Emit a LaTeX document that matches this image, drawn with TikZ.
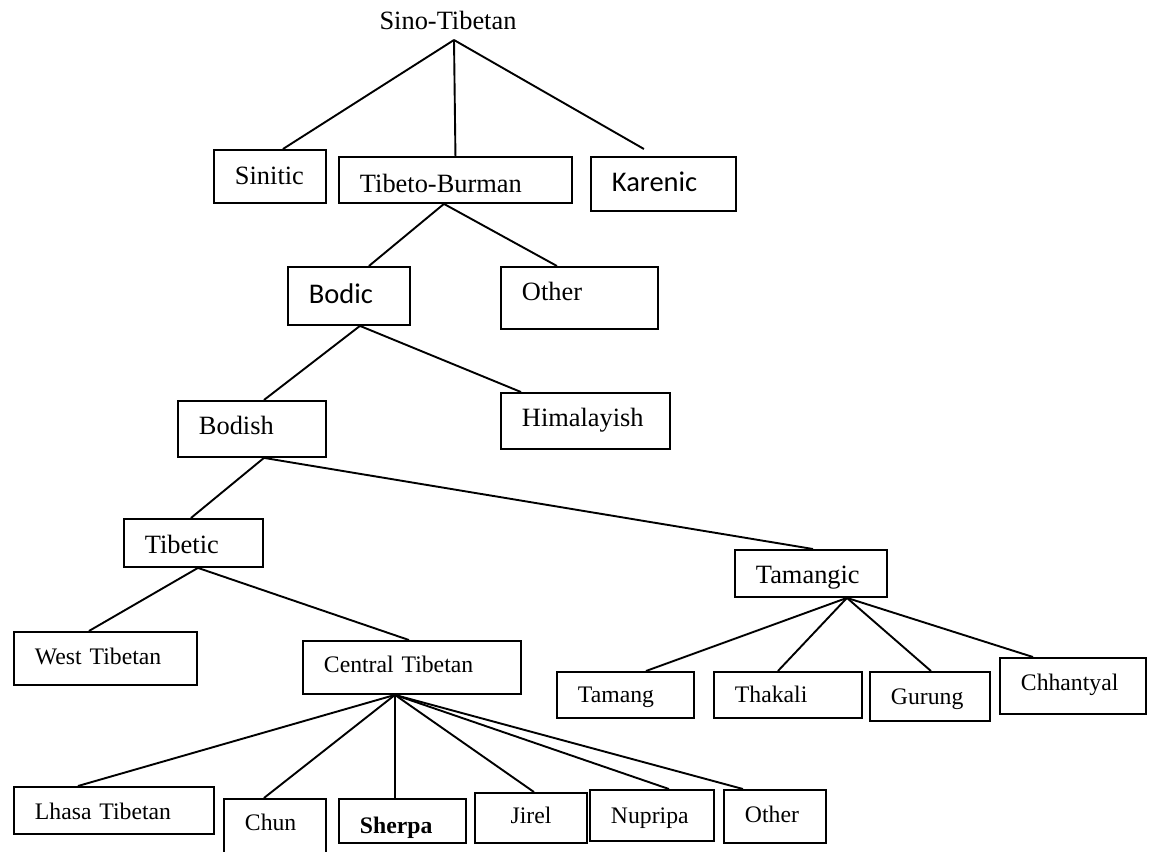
\documentclass[tikz,border=0pt]{standalone}
\usepackage{fontspec}
\setmainfont{Liberation Serif}
\newfontfamily\calibri{Carlito}
\newcommand{\bigtxt}{\fontsize{26.4}{30}\selectfont}
\newcommand{\leaftxt}{\fontsize{23.7}{28}\selectfont}
\newcommand{\sanstxt}{\calibri\fontsize{28.5}{32}\selectfont}

\begin{document}
\begin{tikzpicture}[x=1pt, y=-1pt]
    % Define styles
    \tikzstyle{lang} = [rectangle, draw, line width=1.9pt, anchor=north west, inner xsep=21pt, inner ysep=0pt, align=left, text height=18pt, text depth=2pt, font=\bigtxt]
    \tikzstyle{leaf} = [font=\leaftxt]
    \tikzstyle{link} = [line width=1.9pt]

    \useasboundingbox[fill=white] (0,0) rectangle (1153,851);

    % Families
    \node [anchor=south, inner xsep=0pt, inner ysep=10pt, text depth=0pt, font=\bigtxt] (sino) at (448,40) {Sino-Tibetan};
    \node [lang, text width=70pt, minimum height=53pt] (sinitic) at (213,149) {Sinitic};
    \node [lang, text width=191pt, minimum height=46pt, text height=28pt] (tibburman) at (338,156) {Tibeto-Burman};
    \node [lang, text width=103pt, minimum height=54pt, font=\sanstxt] (karenic) at (590,156) {Karenic};
    \node [lang, text width=80pt, minimum height=58pt, font=\sanstxt] (bodic) at (287,266) {Bodic};
    \node [lang, text width=115pt, minimum height=62pt, text height=8pt] (othertb) at (500,266) {Other};
    \node [lang, text width=127pt, minimum height=56pt, text height=14pt] (himalayish) at (500,392) {Himalayish};
    \node [lang, text width=106pt, minimum height=56pt, text height=14pt] (bodish) at (177,400) {Bodish};
    \node [lang, text width=97pt, minimum height=48pt, text height=24pt] (tibetic) at (123,518) {Tibetic};
    \node [lang, text width=110pt, minimum height=47pt, text height=22pt] (tamangic) at (734,549) {Tamangic};
    \node [lang, leaf, text width=141pt, minimum height=53pt, text height=15pt] (westtib) at (13,631) {West Tibetan};
    \node [lang, leaf, text width=176pt, minimum height=53pt, text height=13pt] (centraltib) at (302,640) {Central Tibetan};

    % Languages
    \node [lang, leaf, text width=158pt, minimum height=47pt, text height=21pt] (lhasa) at (13,786) {Lhasa Tibetan};
    \node [lang, leaf, text width=60pt, minimum height=56pt, text height=10pt] (chun) at (223,798) {Chun};
    \node [lang, leaf, text width=85pt, minimum height=44pt, text height=28pt] (sherpa) at (338,798) {\bfseries Sherpa};
    \node [lang, leaf, text width=70pt, minimum height=50pt, text height=14pt, align=center] (jirel) at (474,792) {Jirel};
    \node [lang, leaf, text width=82pt, minimum height=51pt] (nupripa) at (589,789) {Nupripa};
    \node [lang, leaf, text width=60pt, minimum height=53pt, text height=15pt] (otherct) at (723,789) {Other};
    \node [lang, leaf, text width=95pt, minimum height=46pt] (tamang) at (556,671) {Tamang};
    \node [lang, leaf, text width=106pt, minimum height=46pt] (thakali) at (713,671) {Thakali};
    \node [lang, leaf, text width=78pt, minimum height=49pt] (gurung) at (869,671) {Gurung};
    \node [lang, leaf, text width=104pt, minimum height=56pt, text height=12pt] (chhantyal) at (999,657) {Chhantyal};

    % Connections
    \draw [link] ([xshift=6pt]sino.south) -- ([xshift=13pt]sinitic.north);
    \draw [link] ([xshift=6pt]sino.south) -- (tibburman.north);
    \draw [link] ([xshift=6pt]sino.south) -- ([xshift=-19.5pt,yshift=7pt]karenic.north);
    \draw [link] ([xshift=-11.5pt]tibburman.south) -- ([xshift=20pt]bodic.north);
    \draw [link] ([xshift=-11.5pt]tibburman.south) -- ([xshift=-22.5pt]othertb.north);
    \draw [link] ([xshift=11pt]bodic.south) -- ([xshift=12pt]bodish.north);
    \draw [link] ([xshift=11pt]bodic.south) -- ([xshift=-64.5pt]himalayish.north);
    \draw [link] ([xshift=12pt]bodish.south) -- ([xshift=-2.5pt]tibetic.north);
    \draw [link] ([xshift=12pt]bodish.south) -- ([xshift=2pt]tamangic.north);
    \draw [link] ([xshift=4.5pt]tibetic.south) -- ([xshift=-16.5pt]westtib.north);
    \draw [link] ([xshift=4.5pt]tibetic.south) -- ([xshift=-3pt]centraltib.north);
    \draw [link] ([xshift=-17pt]centraltib.south) -- ([xshift=-36pt]lhasa.north);
    \draw [link] ([xshift=-17pt]centraltib.south) -- ([xshift=-11pt]chun.north);
    \draw [link] ([xshift=-17pt]centraltib.south) -- ([xshift=-7.5pt]sherpa.north);
    \draw [link] ([xshift=-17pt]centraltib.south) -- ([xshift=3pt]jirel.north);
    \draw [link] ([xshift=-17pt]centraltib.south) -- ([xshift=17pt]nupripa.north);
    \draw [link] ([xshift=-17pt]centraltib.south) -- ([xshift=-32pt]otherct.north);
    \draw [link] ([xshift=36pt]tamangic.south) -- ([xshift=20.5pt]tamang.north);
    \draw [link] ([xshift=36pt]tamangic.south) -- ([xshift=-10pt]thakali.north);
    \draw [link] ([xshift=36pt]tamangic.south) -- ([xshift=1pt]gurung.north);
    \draw [link] ([xshift=36pt]tamangic.south) -- ([xshift=-40pt]chhantyal.north);
\end{tikzpicture}
\end{document}
